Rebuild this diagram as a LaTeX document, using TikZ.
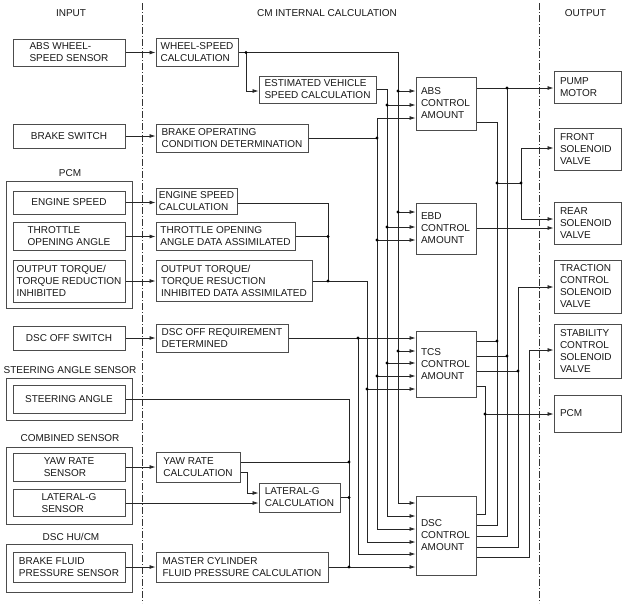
\documentclass[tikz,border=0pt]{standalone}
\usepackage{fontspec}
\setmainfont{Liberation Sans}
\usetikzlibrary{arrows.meta}
\begin{document}
\begin{tikzpicture}[x=1pt,y=-1pt,
  every node/.style={font=\fontsize{10}{12}\selectfont, text=black!90},
  box/.style={draw=black!70, line width=1pt, inner sep=0pt, align=left},
  obox/.style={box, text width=55pt, minimum width=67pt},
  cbox/.style={box, text width=50pt, minimum width=60pt},
  grp/.style={draw=black!70, line width=1pt, inner sep=0pt},
  wire/.style={draw=black!85, line width=0.75pt},
  arr/.style={wire, -{Latex[length=6pt,width=4pt]}},
  arrtwo/.style={wire, {Latex[length=6pt,width=4pt]}-{Latex[length=6pt,width=4pt]}},
  sep/.style={draw=black!80, line width=0.6pt, dash pattern=on 7pt off 2pt on 1pt off 2pt}
]
\useasboundingbox[fill=white] (0,0) rectangle (624,603);

% headers
\node (hIn) at (71,13) {INPUT};
\node (hCm) at (327,13) {CM INTERNAL CALCULATION};
\node (hOut) at (585.5,13) {OUTPUT};

% separators
\draw[sep] (142,3) -- (142,603);
\draw[sep] (539.5,3) -- (539.5,603);

% input side
\node[box, minimum width=112pt, minimum height=27pt] (absS) at (69,52.5) {ABS WHEEL-\\SPEED SENSOR};
\node[box, minimum width=112pt, minimum height=24pt] (brkS) at (69,136) {BRAKE SWITCH};
\node[grp, minimum width=126pt, minimum height=127pt] (pcmG) at (69,244.5) {};
\node (pcmL) at (70,173) {PCM};
\node[box, minimum width=112pt, minimum height=23pt] (engS) at (69,202.5) {ENGINE SPEED};
\node[box, minimum width=112pt, minimum height=28pt] (thrS) at (69,236.5) {THROTTLE\\OPENING ANGLE};
\node[box, minimum width=112pt, minimum height=42pt] (torS) at (69,281) {OUTPUT TORQUE/\\TORQUE REDUCTION\\INHIBITED};
\node[box, minimum width=112pt, minimum height=24pt] (dscS) at (69,338) {DSC OFF SWITCH};
\node[grp, minimum width=126pt, minimum height=42pt] (steG) at (69,399) {};
\node (steL) at (70,370) {STEERING ANGLE SENSOR};
\node[box, minimum width=112pt, minimum height=28pt] (steS) at (69,399) {STEERING ANGLE};
\node[grp, minimum width=126pt, minimum height=77pt] (comG) at (69,485.5) {};
\node (comL) at (70,438) {COMBINED SENSOR};
\node[box, minimum width=112pt, minimum height=28pt] (yawS) at (69,467) {YAW RATE\\SENSOR};
\node[box, minimum width=112pt, minimum height=27pt] (latS) at (69,503) {LATERAL-G\\SENSOR};
\node[grp, minimum width=126pt, minimum height=48pt] (hucG) at (69,568) {};
\node (hucL) at (71,537) {DSC HU/CM};
\node[box, minimum width=112pt, minimum height=30pt] (bfpS) at (69,567) {BRAKE FLUID\\PRESSURE SENSOR};

% internal calculation
\node[box, minimum width=82pt, minimum height=28pt] (wsc) at (197,52.5) {WHEEL-SPEED\\CALCULATION};
\node[box, minimum width=117pt, minimum height=27pt] (evs) at (317.5,89.5) {ESTIMATED VEHICLE\\SPEED CALCULATION};
\node[box, minimum width=152pt, minimum height=28pt] (boc) at (232,138) {BRAKE OPERATING\\CONDITION DETERMINATION};
\node[box, minimum width=81pt, minimum height=26pt] (esc) at (196.5,201.5) {ENGINE SPEED\\CALCULATION};
\node[box, minimum width=139pt, minimum height=28pt] (toa) at (225.5,236.5) {THROTTLE OPENING\\ANGLE DATA ASSIMILATED};
\node[box, minimum width=156pt, minimum height=41pt] (tor) at (234,281) {OUTPUT TORQUE/\\TORQUE RESUCTION\\INHIBITED DATA ASSIMILATED};
\node[box, minimum width=132pt, minimum height=28pt] (dor) at (222,338) {DSC OFF REQUIREMENT\\DETERMINED};
\node[box, minimum width=84pt, minimum height=30pt] (yrc) at (198,467) {YAW RATE\\CALCULATION};
\node[box, minimum width=81pt, minimum height=29pt] (lgc) at (299.5,497.5) {LATERAL-G\\CALCULATION};
\node[box, minimum width=172pt, minimum height=30pt] (mcp) at (242,567) {MASTER CYLINDER\\FLUID PRESSURE CALCULATION};

\node[cbox, minimum height=53pt] (absC) at (446,103.5) {ABS\\CONTROL\\AMOUNT};
\node[cbox, minimum height=51pt] (ebdC) at (446,228.5) {EBD\\CONTROL\\AMOUNT};
\node[cbox, minimum height=66pt] (tcsC) at (446,364) {TCS\\CONTROL\\AMOUNT};
\node[cbox, minimum height=79pt] (dscC) at (446,535.5) {DSC\\CONTROL\\AMOUNT};

% outputs
\node[obox, minimum height=32pt] (pump) at (587.5,87) {PUMP\\MOTOR};
\node[obox, minimum height=42pt] (front) at (587.5,149) {FRONT\\SOLENOID\\VALVE};
\node[obox, minimum height=42pt] (rear) at (587.5,223) {REAR\\SOLENOID\\VALVE};
\node[obox, minimum height=53pt] (trac) at (587.5,286.5) {TRACTION\\CONTROL\\SOLENOID\\VALVE};
\node[obox, minimum height=54pt] (stab) at (587.5,351) {STABILITY\\CONTROL\\SOLENOID\\VALVE};
\node[obox, minimum height=37pt] (pcmO) at (587.5,413.5) {PCM};

% input -> internal
\draw[arr] (absS.east) -- (absS.east -| wsc.west);
\draw[arr] (brkS.east) -- (brkS.east -| boc.west);
\draw[arr] (engS.east) -- (engS.east -| esc.west);
\draw[arr] (thrS.east) -- (thrS.east -| toa.west);
\draw[arr] (torS.east) -- (torS.east -| tor.west);
\draw[arr] (dscS.east) -- (dscS.east -| dor.west);
\draw[arr] (yawS.east) -- (yawS.east -| yrc.west);
\draw[arr] (latS.east) -- (latS.east -| lgc.west);
\draw[arr] (bfpS.east) -- (bfpS.east -| mcp.west);

% wheel speed bus
\draw[arr] (wsc.east) -- (398,52.5) -- (398,503) -- (dscC.west |- 0,503);
\draw[arr] (246,52.5) -- (246,91) -- (evs.west |- 0,91);
\draw[arr] (398,91) -- (absC.west |- 0,91);
\draw[arr] (398,212) -- (ebdC.west |- 0,212);
\draw[arr] (398,351) -- (tcsC.west |- 0,351);

% estimated vehicle speed bus
\draw[arr] (evs.east |- 0,89) -- (387,89) -- (387,516) -- (dscC.west |- 0,516);
\draw[arr] (387,105) -- (absC.west |- 0,105);
\draw[arr] (387,227) -- (ebdC.west |- 0,227);
\draw[arr] (387,363) -- (tcsC.west |- 0,363);

% brake operating bus
\draw[wire] (boc.east) -- (377,138);
\draw[arrtwo] (absC.west |- 0,118) -- (377,118) -- (377,529) -- (dscC.west |- 0,529);
\draw[arr] (377,240) -- (ebdC.west |- 0,240);
\draw[arr] (377,376) -- (tcsC.west |- 0,376);

% engine / throttle / torque bus
\draw[wire] (esc.east |- 0,203) -- (328,203) -- (328,281);
\draw[wire] (toa.east) -- (328,236.5);
\draw[arr] (tor.east) -- (367,281) -- (367,542) -- (dscC.west |- 0,542);
\draw[arr] (367,389) -- (tcsC.west |- 0,389);

% DSC off bus
\draw[arr] (dor.east) -- (tcsC.west |- dor.east);
\draw[arr] (358,338) -- (358,554) -- (dscC.west |- 0,554);

% steering / yaw / lateral / master cylinder bus
\draw[wire] (steS.east) -- (349,399) -- (349,567);
\draw[arr] (mcp.east) -- (dscC.west |- mcp.east);
\draw[wire] (yrc.east |- 0,462) -- (349,462);
\draw[arr] (yrc.east |- 0,472) -- (247,472) -- (247,493) -- (lgc.west |- 0,493);
\draw[wire] (lgc.east) -- (349,497.5);

% outputs
\draw[arr] (absC.east |- 0,88) -- (pump.west |- 0,88);
\draw[wire] (507,88) -- (507,536) -- (dscC.east |- 0,536);
\draw[wire] (absC.east |- 0,122) -- (497,122) -- (497,525) -- (dscC.east |- 0,525);
\draw[wire] (497,183) -- (521,183);
\draw[arrtwo] (front.west |- 0,148) -- (521,148) -- (521,219) -- (rear.west |- 0,219);
\draw[arr] (ebdC.east |- 0,228) -- (rear.west |- 0,228);
\draw[arr] (dscC.east |- 0,547) -- (518,547) -- (518,287) -- (trac.west |- 0,287);
\draw[arr] (dscC.east |- 0,557) -- (529,557) -- (529,350) -- (stab.west |- 0,350);
\draw[wire] (tcsC.east |- 0,386) -- (485,386) -- (485,514) -- (dscC.east |- 0,514);
\draw[arr] (485,414) -- (pcmO.west |- 0,414);
\draw[wire] (tcsC.east |- 0,341) -- (497,341);
\draw[wire] (tcsC.east |- 0,356) -- (507,356);
\draw[wire] (tcsC.east |- 0,371) -- (518,371);

% junction dots
\foreach \p in {(246,52.5),(398,91),(398,212),(398,351),
                (387,105),(387,227),(387,363),
                (377,138),(377,240),(377,376),
                (328,236.5),(328,281),(367,389),(358,338),
                (349,462),(349,497.5),(349,567),
                (507,88),(497,183),(521,183),(497,341),(507,356),(518,371),(485,414)}
  \fill[black] \p circle (1.7pt);
\end{tikzpicture}
\end{document}
